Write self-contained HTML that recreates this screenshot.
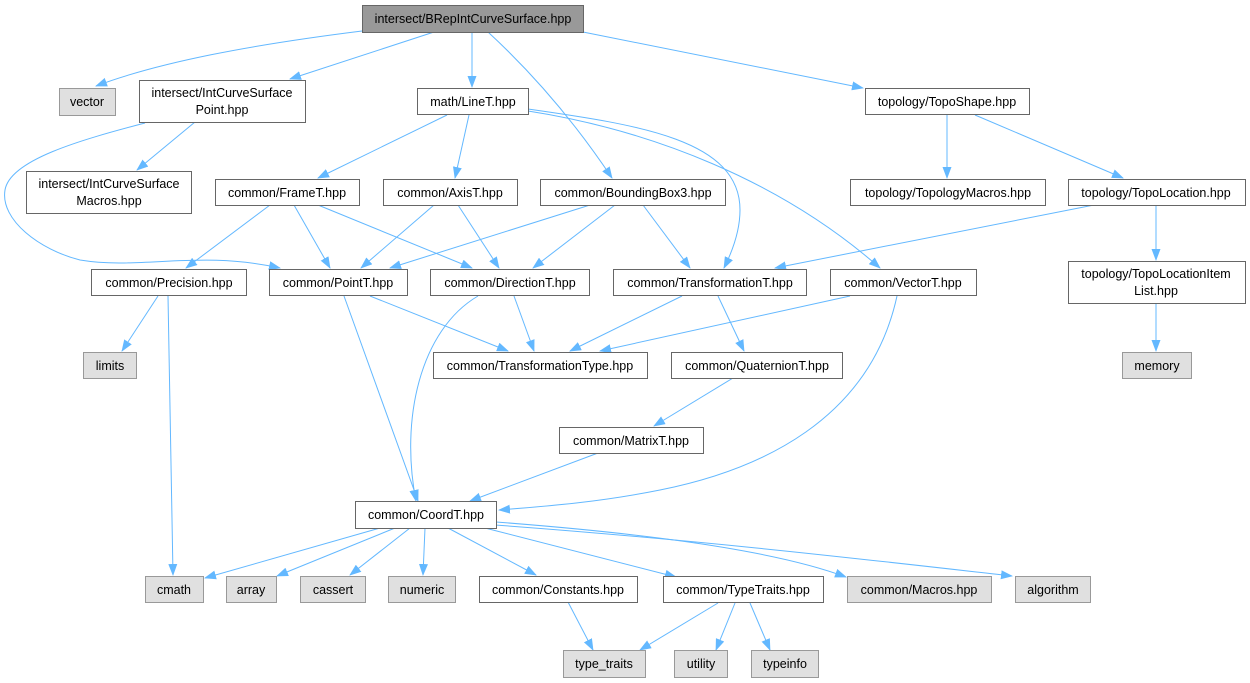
<!DOCTYPE html>
<html><head><meta charset="utf-8"><style>
html,body{margin:0;padding:0;background:#fff;}
svg{display:block}
text{font-family:"Liberation Sans",sans-serif;font-size:12.5px;fill:#000;text-anchor:middle}
.n{fill:#fff;stroke:#666;stroke-width:1}
.g{fill:#e0e0e0;stroke:#999;stroke-width:1}
.e{fill:none;stroke:#63b8ff;stroke-width:1}
</style></head><body>
<svg width="1250" height="683" viewBox="0 0 1250 683">
<defs><marker id="a" markerWidth="12" markerHeight="9" refX="11" refY="4.5" orient="auto" markerUnits="userSpaceOnUse"><path d="M0,0 L12,4.5 L0,9 z" fill="#63b8ff"/></marker></defs>
<g class="e" marker-end="url(#a)">
<path d="M362,31 C250,45 160,62 96,86"/>
<path d="M434,32 L290,79"/>
<path d="M472,32 L472,87"/>
<path d="M488,32 C540,80 580,130 612,178"/>
<path d="M583,32 L863,88"/>
<path d="M195,122 L137,170"/>
<path d="M145,123 C80,140 10,160 5,190 C0,220 40,250 80,260 C140,270 200,250 280,268"/>
<path d="M447,115 L318,178"/>
<path d="M469,115 L455,178"/>
<path d="M528,109 C640,125 740,140 740,210 C740,230 733,250 724,268"/>
<path d="M528,111 C650,130 780,180 880,268"/>
<path d="M947,115 L947,178"/>
<path d="M975,115 L1123,178"/>
<path d="M270,205 L186,268"/>
<path d="M294,205 L330,268"/>
<path d="M318,205 L472,268"/>
<path d="M434,205 L361,268"/>
<path d="M458,205 L499,268"/>
<path d="M590,205 L390,268"/>
<path d="M615,205 L533,268"/>
<path d="M643,205 L690,268"/>
<path d="M1094,205 L775,268"/>
<path d="M1156,205 L1156,260"/>
<path d="M158,296 L122,351"/>
<path d="M168,296 L173,575"/>
<path d="M344,296 L418,501"/>
<path d="M370,296 L508,351"/>
<path d="M478,296 C420,330 400,420 416,501"/>
<path d="M514,296 L534,351"/>
<path d="M682,296 L570,351"/>
<path d="M718,296 L744,351"/>
<path d="M850,296 L600,351"/>
<path d="M897,296 C870,420 760,470 660,490 C600,502 550,506 499,510"/>
<path d="M1156,303 L1156,351"/>
<path d="M733,378 L654,426"/>
<path d="M598,453 L470,501"/>
<path d="M380,528 L205,578"/>
<path d="M395,528 L277,576"/>
<path d="M410,528 L350,575"/>
<path d="M425,528 L423,575"/>
<path d="M448,528 L536,575"/>
<path d="M496,522 C600,530 760,545 846,577"/>
<path d="M495,525 C700,540 870,560 1012,576"/>
<path d="M485,528 L676,577"/>
</g>
<g class="e" marker-end="url(#a)">
<path d="M568,602 L593,650"/>
<path d="M718,603 L640,650"/>
<path d="M735,603 L716,650"/>
<path d="M750,603 L770,650"/>
</g>
<rect x="362.5" y="5.5" width="221" height="27" fill="#999" stroke="#666"/><text x="473" y="23">intersect/BRepIntCurveSurface.hpp</text>
<rect class="g" x="59.5" y="88.5" width="56" height="27"/><text x="87" y="106">vector</text>
<rect class="n" x="139.5" y="80.5" width="166" height="42"/><text x="222" y="97">intersect/IntCurveSurface</text><text x="222" y="114">Point.hpp</text>
<rect class="n" x="417.5" y="88.5" width="111" height="26"/><text x="473" y="106">math/LineT.hpp</text>
<rect class="n" x="865.5" y="88.5" width="164" height="26"/><text x="947" y="106">topology/TopoShape.hpp</text>
<rect class="n" x="26.5" y="171.5" width="165" height="42"/><text x="109" y="188">intersect/IntCurveSurface</text><text x="109" y="205">Macros.hpp</text>
<rect class="n" x="215.5" y="179.5" width="144" height="26"/><text x="287" y="197">common/FrameT.hpp</text>
<rect class="n" x="383.5" y="179.5" width="134" height="26"/><text x="450" y="197">common/AxisT.hpp</text>
<rect class="n" x="540.5" y="179.5" width="185" height="26"/><text x="633" y="197">common/BoundingBox3.hpp</text>
<rect class="n" x="850.5" y="179.5" width="195" height="26"/><text x="948" y="197">topology/TopologyMacros.hpp</text>
<rect class="n" x="1068.5" y="179.5" width="177" height="26"/><text x="1156" y="197">topology/TopoLocation.hpp</text>
<rect class="n" x="91.5" y="269.5" width="155" height="26"/><text x="169" y="287">common/Precision.hpp</text>
<rect class="n" x="269.5" y="269.5" width="138" height="26"/><text x="338" y="287">common/PointT.hpp</text>
<rect class="n" x="430.5" y="269.5" width="159" height="26"/><text x="510" y="287">common/DirectionT.hpp</text>
<rect class="n" x="613.5" y="269.5" width="193" height="26"/><text x="710" y="287">common/TransformationT.hpp</text>
<rect class="n" x="830.5" y="269.5" width="146" height="26"/><text x="903" y="287">common/VectorT.hpp</text>
<rect class="n" x="1068.5" y="261.5" width="177" height="42"/><text x="1156" y="278">topology/TopoLocationItem</text><text x="1156" y="295">List.hpp</text>
<rect class="g" x="83.5" y="352.5" width="53" height="26"/><text x="110" y="370">limits</text>
<rect class="n" x="433.5" y="352.5" width="214" height="26"/><text x="540" y="370">common/TransformationType.hpp</text>
<rect class="n" x="671.5" y="352.5" width="171" height="26"/><text x="757" y="370">common/QuaternionT.hpp</text>
<rect class="g" x="1122.5" y="352.5" width="69" height="26"/><text x="1157" y="370">memory</text>
<rect class="n" x="559.5" y="427.5" width="144" height="26"/><text x="631" y="445">common/MatrixT.hpp</text>
<rect class="n" x="355.5" y="501.5" width="141" height="27"/><text x="426" y="519">common/CoordT.hpp</text>
<rect class="g" x="145.5" y="576.5" width="58" height="26"/><text x="174" y="594">cmath</text>
<rect class="g" x="226.5" y="576.5" width="50" height="26"/><text x="251" y="594">array</text>
<rect class="g" x="300.5" y="576.5" width="65" height="26"/><text x="333" y="594">cassert</text>
<rect class="g" x="388.5" y="576.5" width="67" height="26"/><text x="422" y="594">numeric</text>
<rect class="n" x="479.5" y="576.5" width="158" height="26"/><text x="558" y="594">common/Constants.hpp</text>
<rect class="n" x="663.5" y="576.5" width="160" height="26"/><text x="743" y="594">common/TypeTraits.hpp</text>
<rect class="g" x="847.5" y="576.5" width="144" height="26"/><text x="919" y="594">common/Macros.hpp</text>
<rect class="g" x="1015.5" y="576.5" width="75" height="26"/><text x="1053" y="594">algorithm</text>
<rect class="g" x="563.5" y="650.5" width="82" height="27"/><text x="604" y="668">type_traits</text>
<rect class="g" x="674.5" y="650.5" width="53" height="27"/><text x="701" y="668">utility</text>
<rect class="g" x="751.5" y="650.5" width="67" height="27"/><text x="785" y="668">typeinfo</text>
</svg></body></html>
